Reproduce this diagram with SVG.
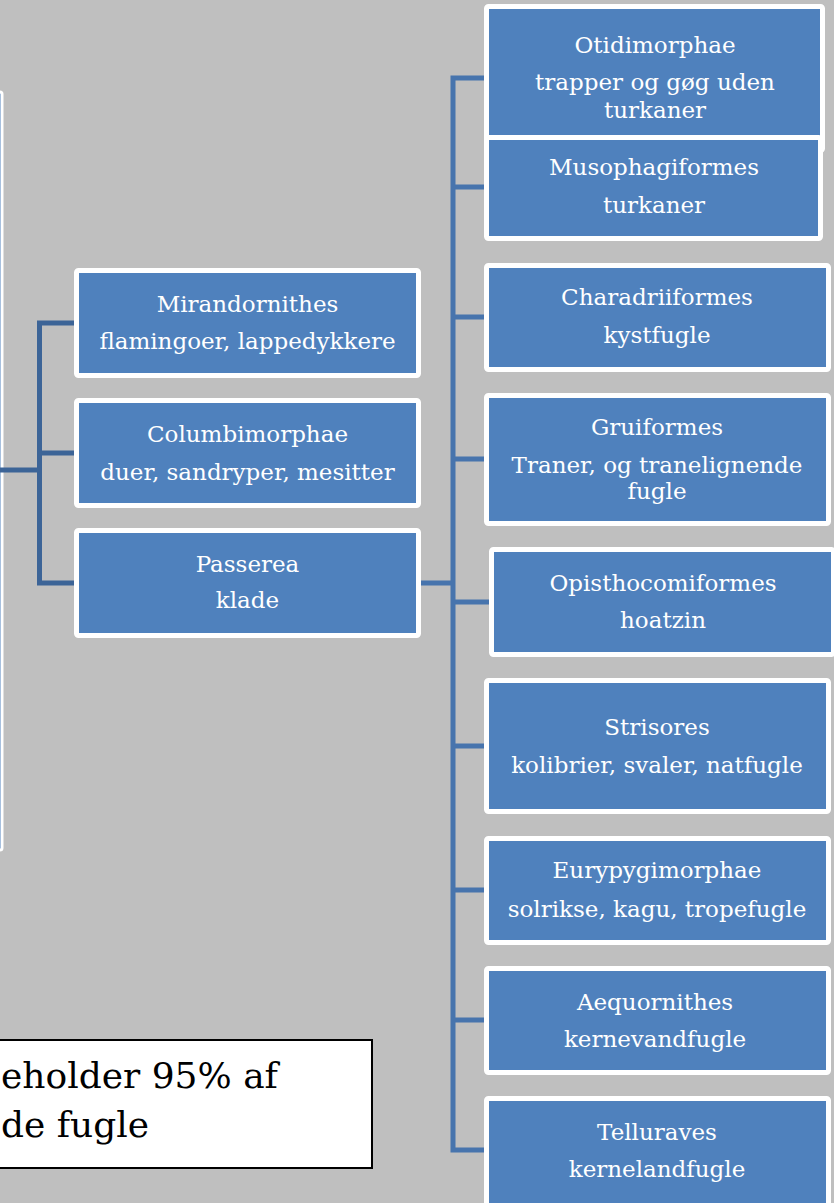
<svg xmlns="http://www.w3.org/2000/svg" width="834" height="1203" viewBox="0 0 834 1203">
<style>
.box{fill:#4f81bd;stroke:#ffffff;stroke-width:5}
.t{font-family:"DejaVu Serif","Liberation Serif",serif;font-size:23px;fill:#ffffff;text-anchor:middle}
.cl{fill:none;stroke:#3c6497;stroke-width:5}
.cr{fill:none;stroke:#4774ad;stroke-width:5}
.note{font-family:"DejaVu Serif","Liberation Serif",serif;font-size:36px;fill:#000000}
</style>
<rect x="0" y="0" width="834" height="1203" fill="#bfbfbf"/>
<g id="offscreen-box"><rect x="-20" y="92" width="22" height="758" rx="2" fill="#4f81bd" stroke="#ffffff" stroke-width="3"/></g>
<g id="connectors">
<path class="cl" d="M0 470H39.5M76 323H39.5V583H76M39.5 453H76"/>
<path class="cr" d="M486 78H453V1150H486M453 187H486M453 317H486M453 459H486M453 746H486M453 890H486M453 1020H486M420 583H455M455 602H491"/>
</g>
<g id="mirandornithes"><rect class="box" x="76.5" y="270.5" width="342" height="105" rx="2"/><text class="t" x="247.5" y="312">Mirandornithes</text><text class="t" x="247.5" y="349">flamingoer, lappedykkere</text></g>
<g id="columbimorphae"><rect class="box" x="76.5" y="400.5" width="342" height="105" rx="2"/><text class="t" x="247.5" y="442">Columbimorphae</text><text class="t" x="247.5" y="480">duer, sandryper, mesitter</text></g>
<g id="passerea"><rect class="box" x="76.5" y="530.5" width="342" height="105" rx="2"/><text class="t" x="247.5" y="572">Passerea</text><text class="t" x="247.5" y="608">klade</text></g>
<g id="otidimorphae"><rect class="box" x="486.5" y="6.5" width="336" height="144" rx="2"/><text class="t" x="655" y="53">Otidimorphae</text><text class="t" x="655" y="90">trapper og gøg uden</text><text class="t" x="655" y="118">turkaner</text></g>
<g id="musophagiformes"><rect class="box" x="486.5" y="137.5" width="334" height="101" rx="2"/><text class="t" x="654" y="175">Musophagiformes</text><text class="t" x="654" y="213">turkaner</text></g>
<g id="charadriiformes"><rect class="box" x="486.5" y="265.5" width="342" height="104" rx="2"/><text class="t" x="657" y="305">Charadriiformes</text><text class="t" x="657" y="343">kystfugle</text></g>
<g id="gruiformes"><rect class="box" x="486.5" y="395.5" width="342" height="128" rx="2"/><text class="t" x="657" y="435">Gruiformes</text><text class="t" x="657" y="473">Traner, og tranelignende</text><text class="t" x="657" y="499">fugle</text></g>
<g id="opisthocomiformes"><rect class="box" x="491.5" y="549.5" width="342" height="105" rx="2"/><text class="t" x="663" y="591">Opisthocomiformes</text><text class="t" x="663" y="628">hoatzin</text></g>
<g id="strisores"><rect class="box" x="486.5" y="680.5" width="342" height="131" rx="2"/><text class="t" x="657" y="735">Strisores</text><text class="t" x="657" y="773">kolibrier, svaler, natfugle</text></g>
<g id="eurypygimorphae"><rect class="box" x="486.5" y="838.5" width="342" height="104" rx="2"/><text class="t" x="657" y="878">Eurypygimorphae</text><text class="t" x="657" y="917">solrikse, kagu, tropefugle</text></g>
<g id="aequornithes"><rect class="box" x="486.5" y="968.5" width="342" height="104" rx="2"/><text class="t" x="655" y="1010">Aequornithes</text><text class="t" x="655" y="1047">kernevandfugle</text></g>
<g id="telluraves"><rect class="box" x="486.5" y="1098.5" width="342" height="112" rx="2"/><text class="t" x="657" y="1140">Telluraves</text><text class="t" x="657" y="1177">kernelandfugle</text></g>
<g id="note"><rect x="-10" y="1040" width="382" height="128" fill="#ffffff" stroke="#000000" stroke-width="2"/><text class="note" x="1" y="1088">eholder 95% af</text><text class="note" x="1" y="1137">de fugle</text></g>
</svg>
